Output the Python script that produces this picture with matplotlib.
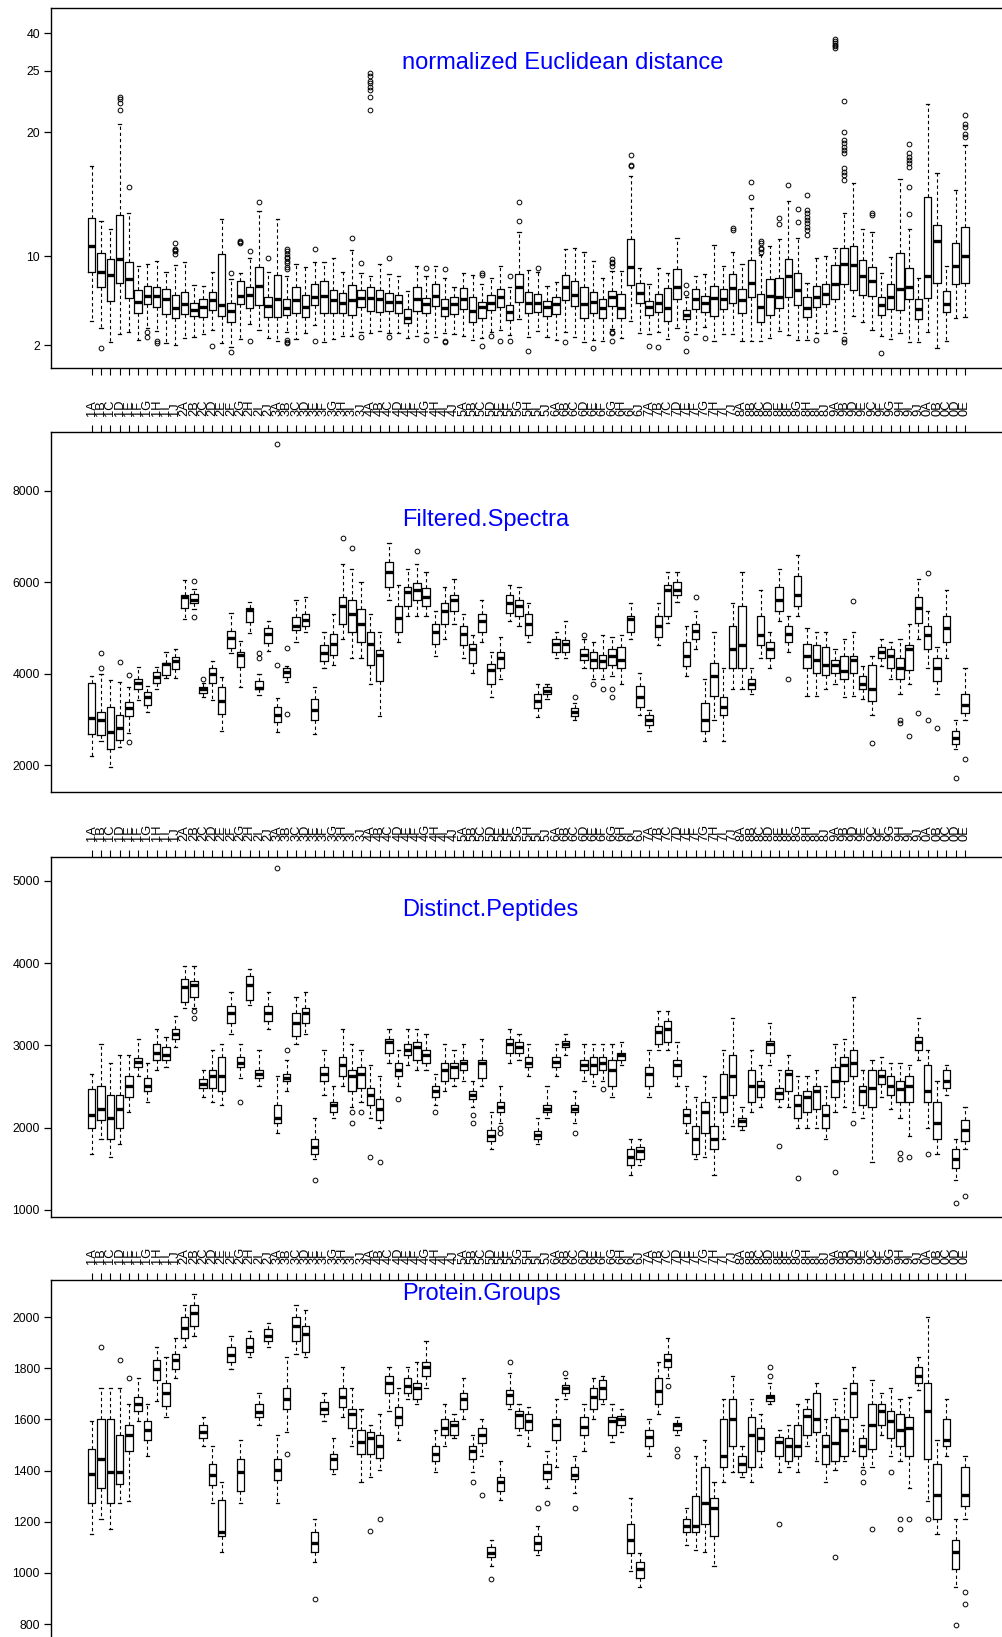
import numpy as np
import matplotlib
matplotlib.use('Agg')
import matplotlib.pyplot as plt

plt.rcParams['font.family'] = ['Liberation Sans', 'DejaVu Sans']

# category labels (note the odd 9-row order)
digits = ['1', '2', '3', '4', '5', '6', '7', '8']
cats = [d + c for d in digits for c in 'ABCDEFGHIJ']
cats += ['9' + c for c in 'ABDECFGHIJ']
cats += ['0' + c for c in 'ABCDE']

# ---- normalized Euclidean distance ----
ned_q3 = [13.1, 10.3, 9.76, 13.3, 9.52, 6.97, 7.33, 7.2, 7.03, 6.5,
          6.77, 5.81, 6.14, 6.77, 10.2, 5.78, 7.81, 7.27, 9.07, 6.37,
          8.29, 6.14, 7.22, 6.55, 7.51, 7.78, 6.97, 6.74, 7.42, 6.97,
          7.22, 6.97, 6.7, 6.55, 5.24, 7.22, 6.22, 7.51, 6.14, 6.31,
          7.12, 6.31, 5.93, 6.52, 7.06, 5.6, 8.41, 6.77, 6.58, 6.02,
          6.37, 8.32, 7.81, 7.27, 6.82, 6.16, 6.88, 6.58, 11.37, 7.63,
          5.99, 6.61, 7.12, 8.86, 5.18, 7.03, 6.46, 7.33, 7.03, 8.38,
          7.06, 9.7, 6.58, 7.93, 8.02, 9.79, 8.53, 6.31, 7.36, 7.48,
          9.2, 10.7, 10.86, 9.7, 9.07, 6.37, 7.51, 10.3, 8.98, 6.14,
          14.76, 12.53, 6.88, 11.05, 12.4]
ned_med = [10.86, 8.62, 8.32, 9.73, 7.93, 5.9, 6.43, 6.43, 6.16, 5.36,
           5.75, 5.18, 5.42, 6.08, 5.63, 5.12, 6.46, 6.52, 7.33, 5.54,
           6.16, 5.36, 6.08, 5.42, 6.37, 6.43, 6.08, 5.84, 6.08, 6.22,
           6.22, 6.14, 5.93, 5.93, 4.43, 6.16, 5.72, 6.46, 5.33, 5.72,
           6.16, 5.09, 5.48, 5.84, 6.31, 5.0, 7.22, 5.78, 5.78, 5.48,
           5.72, 7.22, 6.52, 5.72, 5.93, 5.33, 6.31, 5.39, 9.0, 6.67,
           5.42, 5.78, 5.33, 7.27, 4.73, 6.16, 5.84, 6.22, 6.16, 7.12,
           6.08, 7.6, 5.42, 6.46, 6.31, 8.26, 6.97, 5.33, 6.37, 6.58,
           7.48, 9.31, 9.2, 8.2, 7.78, 5.63, 6.37, 7.03, 7.27, 5.24,
           8.2, 11.26, 5.72, 9.16, 10.05]
ned_q1 = [8.56, 7.27, 6.02, 7.57, 6.23, 4.88, 5.7, 5.4, 4.79, 4.43,
          4.82, 4.64, 4.52, 5.15, 4.64, 4.07, 5.69, 5.39, 5.63, 4.58,
          4.52, 4.73, 4.88, 4.52, 5.63, 4.88, 4.88, 4.88, 4.73, 5.48,
          5.09, 5.0, 5.12, 4.88, 4.04, 5.12, 4.88, 5.54, 4.64, 4.82,
          5.24, 4.13, 4.43, 5.18, 5.42, 4.28, 5.93, 4.88, 5.03, 4.64,
          4.82, 6.08, 5.57, 4.43, 4.94, 4.43, 5.54, 4.43, 7.42, 5.78,
          4.73, 5.03, 4.22, 6.14, 4.34, 5.24, 5.03, 4.64, 5.24, 5.84,
          4.94, 6.31, 4.13, 4.73, 5.33, 6.31, 5.63, 4.52, 5.48, 5.72,
          6.16, 7.51, 6.97, 6.55, 6.43, 4.73, 5.24, 5.18, 6.14, 4.37,
          6.28, 7.57, 4.97, 7.51, 7.57]
ned_hi = [17.3, 12.85, 12.2, 20.7, 13.5, 9.16, 9.28, 9.6, 8.56, 9.2,
          9.46, 7.42, 7.33, 8.62, 13.0, 7.93, 8.47, 9.85, 13.66, 8.56,
          13.0, 8.26, 9.31, 9.0, 9.46, 9.52, 9.88, 8.62, 10.5, 8.53,
          8.23, 9.28, 8.44, 8.2, 6.88, 9.16, 8.23, 9.16, 8.02, 7.27,
          8.47, 8.32, 7.5, 8.02, 9.13, 7.22, 11.94, 8.77, 8.62, 7.33,
          7.66, 10.56, 10.65, 10.38, 9.58, 8.02, 8.7, 8.71, 16.5, 8.98,
          7.51, 8.92, 8.47, 11.45, 6.37, 8.23, 8.41, 10.91, 9.13, 10.38,
          9.31, 13.87, 10.1, 10.8, 11.37, 14.49, 11.45, 7.57, 9.88, 10.05,
          10.65, 13.47, 15.9, 12.2, 11.99, 8.53, 9.97, 16.24, 12.18, 8.02,
          22.3, 16.7, 9.16, 15.35, 18.98]
ned_lo = [4.19, 3.53, 2.27, 2.99, 3.17, 2.48, 3.53, 3.29, 2.18, 2.03,
          2.69, 2.78, 3.02, 3.38, 2.18, 1.88, 2.57, 3.92, 3.38, 2.63,
          2.39, 3.17, 2.54, 3.08, 3.8, 2.33, 2.57, 2.84, 2.84, 3.17,
          3.14, 3.32, 3.08, 3.08, 2.69, 2.84, 3.14, 2.78, 3.14, 2.99,
          2.84, 2.48, 2.63, 3.17, 3.38, 2.93, 4.37, 2.78, 3.29, 2.78,
          2.48, 3.17, 2.78, 2.27, 2.48, 2.42, 3.5, 2.63, 4.22, 3.14,
          2.99, 3.23, 2.54, 3.53, 3.17, 2.99, 3.68, 2.42, 2.99, 2.99,
          2.42, 2.42, 2.42, 2.69, 3.32, 2.93, 2.48, 2.48, 3.14, 3.08,
          3.29, 3.08, 4.64, 4.13, 3.38, 2.84, 2.57, 3.14, 2.33, 2.33,
          3.17, 1.79, 2.42, 4.43, 4.58]
ned_out = {1: [1.76], 3: [21.8, 22.4, 22.7, 22.9], 4: [15.6], 6: [3.23, 2.78],
           7: [2.42, 2.18], 9: [10.2, 10.4, 10.5, 10.6, 11.1], 13: [1.97],
           15: [8.47, 1.43], 16: [11.1, 11.15, 11.2], 17: [10.4, 2.39], 18: [14.4],
           19: [9.85], 21: [8.83, 9.07, 9.37, 9.61, 9.82, 9.97, 10.2, 10.4, 10.6, 2.45, 2.3, 2.18],
           24: [10.6, 2.42], 28: [11.45], 29: [9.43, 2.78],
           30: [21.8, 22.9, 23.4, 23.7, 24.0, 24.2, 24.6, 24.8], 32: [9.85, 2.78],
           36: [8.98, 2.48], 38: [8.83, 2.42, 2.33], 42: [8.32, 8.53, 1.97], 43: [2.87],
           44: [2.42], 45: [8.26, 2.39], 46: [12.88, 14.35], 47: [1.52], 48: [8.98],
           51: [2.33], 54: [1.79], 56: [9.13, 9.37, 9.52, 9.76, 3.23, 3.08, 2.42],
           58: [17.3, 17.4, 18.2], 60: [1.94], 61: [1.82], 64: [7.42, 6.74, 2.63, 1.52],
           66: [2.63], 69: [12.12, 12.26], 71: [14.8, 16.0],
           72: [10.38, 10.56, 10.7, 11.1, 11.26], 74: [12.58, 13.06], 75: [15.75],
           76: [12.8, 13.79], 77: [11.7, 12.1, 12.4, 12.66, 12.9, 13.2, 13.5, 13.7, 14.95],
           78: [2.48], 80: [34.0, 34.8, 35.5, 36.2, 36.9, 37.7],
           81: [16.16, 16.56, 16.8, 17.1, 18.3, 18.57, 18.84, 19.1, 19.38, 20.05, 22.57, 2.54, 2.33],
           84: [13.33, 13.47], 85: [1.34],
           88: [13.39, 15.56, 17.23, 17.5, 17.77, 18.04, 18.3, 19.06],
           94: [19.65, 19.9, 20.46, 20.7, 21.4]}

# ---- Filtered.Spectra ----
spec_q3 = [3789, 3168, 3263, 3095, 3387, 3876, 3606, 4044, 4241, 4358,
           5708, 5738, 3701, 4117, 3716, 4942, 4467, 5431, 3840, 4993,
           3263, 4117, 5248, 5306, 3436, 4622, 4873, 5671, 5602, 5420,
           4918, 4508, 6446, 5488, 5899, 5990, 5876, 5078, 5534, 5716,
           5032, 4645, 5306, 4212, 4462, 5716, 5602, 5306, 3550, 3710,
           4759, 4736, 3254, 4531, 4462, 4417, 4531, 4576, 5260, 3733,
           3094, 5260, 5944, 6013, 4690, 5078, 3368, 4234, 3482, 5032,
           5488, 3892, 5260, 4690, 5899, 5032, 6127, 4645, 4622, 4576,
           4303, 4394, 4394, 3938, 4189, 4576, 4531, 4348, 4622, 5671,
           5032, 4348, 5260, 2752, 3550]
spec_med = [3022, 2986, 2730, 2803, 3241, 3789, 3482, 3920, 4205, 4285,
            5672, 5613, 3657, 3993, 3402, 4774, 4409, 5380, 3679, 4869,
            3095, 4044, 5044, 5169, 3208, 4440, 4645, 5488, 5306, 5078,
            4645, 4417, 6218, 5215, 5785, 5830, 5671, 4918, 5374, 5602,
            4873, 4531, 5146, 4075, 4348, 5534, 5488, 5078, 3391, 3619,
            4645, 4645, 3163, 4417, 4303, 4280, 4394, 4303, 5192, 3482,
            2980, 5032, 5830, 5830, 4394, 4941, 2980, 3938, 3277, 4531,
            4622, 3778, 4850, 4531, 5602, 4873, 5716, 4394, 4303, 4189,
            4189, 4052, 4303, 3778, 3664, 4462, 4394, 4120, 4531, 5443,
            4850, 4120, 4987, 2593, 3322]
spec_q1 = [2679, 2657, 2350, 2548, 3080, 3657, 3314, 3789, 3971, 4095,
           5431, 5540, 3584, 3789, 3117, 4555, 4154, 5124, 3657, 4665,
           2949, 3935, 4957, 5032, 2980, 4280, 4417, 5078, 4918, 4690,
           4189, 3847, 5899, 4918, 5488, 5602, 5488, 4645, 5078, 5374,
           4622, 4234, 4918, 3778, 4120, 5329, 5260, 4850, 3254, 3550,
           4462, 4462, 3072, 4303, 4120, 4120, 4189, 4120, 4918, 3277,
           2866, 4804, 5260, 5716, 4166, 4759, 2752, 3505, 3094, 4120,
           4120, 3664, 4622, 4348, 5374, 4690, 5488, 4120, 4006, 3961,
           4006, 3892, 4006, 3664, 3391, 4348, 4120, 3892, 4075, 5101,
           4531, 3847, 4690, 2456, 3140]
spec_hi = [3949, 3993, 3862, 3825, 3716, 4154, 3730, 4139, 4467, 4548,
           6037, 5847, 3789, 4285, 3920, 5321, 4723, 5555, 3993, 5160,
           3460, 4168, 5599, 5671, 3710, 4918, 5306, 6400, 6286, 6013,
           5306, 4918, 6856, 5944, 6286, 6400, 6218, 5374, 5899, 6058,
           5306, 4850, 5602, 4462, 4804, 5944, 5899, 5534, 3778, 3778,
           4918, 5146, 3368, 4759, 4690, 4850, 4804, 4850, 5534, 4006,
           3208, 5534, 6218, 6218, 5032, 5374, 3892, 4918, 4120, 5534,
           6218, 4120, 5830, 4918, 6286, 5260, 6583, 4987, 4918, 4918,
           4531, 4759, 4918, 4166, 4394, 4759, 4690, 4759, 5078, 6058,
           5374, 4576, 5830, 2980, 4120]
spec_lo = [2197, 2533, 1963, 2387, 2694, 3424, 3153, 3657, 3898, 3913,
           5197, 5409, 3496, 3424, 2752, 4446, 3716, 4884, 3533, 4504,
           2716, 3825, 4701, 4918, 2684, 4120, 4189, 4759, 4348, 4348,
           3778, 3072, 5602, 4690, 5260, 5260, 5260, 4394, 4759, 5078,
           4348, 4006, 4690, 3482, 3892, 5146, 5032, 4690, 3049, 3436,
           4348, 4348, 2980, 4120, 3892, 3892, 3938, 3778, 4759, 3094,
           2752, 4622, 5101, 5557, 3938, 4531, 2524, 2980, 2524, 3664,
           3664, 3550, 4348, 4120, 5146, 4462, 5260, 3505, 3505, 3664,
           3778, 3482, 3505, 3436, 3094, 4166, 3892, 3550, 3778, 4759,
           4120, 3550, 4348, 2342, 2980]
spec_out = {1: [4446, 4132], 3: [4263], 4: [3971, 2496], 11: [6015, 5248], 12: [3876],
            18: [4446, 4336], 20: [9008, 4190], 21: [4570, 3117], 27: [6970], 28: [6742],
            35: [6674], 52: [3482], 53: [4850], 54: [3778], 55: [3664], 56: [3664, 3482],
            65: [5671], 75: [3892], 82: [5580], 84: [2479], 87: [2980, 2930], 88: [2638],
            89: [3140], 90: [6195, 2980], 91: [2821], 93: [1726], 94: [2137]}

# ---- Distinct.Peptides ----
pep_q3 = [2465, 2503, 2401, 2401, 2631, 2847, 2605, 3013, 2975, 3204,
          3803, 3777, 2592, 2694, 2860, 3484, 2860, 3841, 2694, 3484,
          2274, 2656, 3395, 3459, 1866, 2733, 2312, 2860, 2694, 2733,
          2478, 2350, 3077, 2784, 3013, 3038, 2949, 2503, 2784, 2784,
          2822, 2440, 2822, 1968, 2312, 3077, 3038, 2860, 1956, 2274,
          2860, 3051, 2274, 2822, 2860, 2860, 2822, 2911, 1739, 1764,
          2733, 3230, 3293, 2822, 2223, 2019, 2312, 2019, 2656, 2886,
          2121, 2694, 2567, 3051, 2478, 2694, 2401, 2440, 2503, 2274,
          2733, 2860, 2949, 2503, 2694, 2694, 2631, 2567, 2631, 3102,
          2758, 2312, 2694, 1739, 2096]
pep_med = [2147, 2223, 2121, 2223, 2503, 2796, 2503, 2911, 2886, 3140,
           3714, 3739, 2529, 2631, 2631, 3395, 2784, 3739, 2656, 3395,
           2121, 2605, 3268, 3395, 1764, 2656, 2274, 2758, 2631, 2656,
           2401, 2223, 3038, 2694, 2949, 2975, 2886, 2440, 2694, 2733,
           2784, 2401, 2784, 1892, 2249, 3013, 2975, 2784, 1905, 2223,
           2796, 3013, 2223, 2758, 2758, 2784, 2694, 2886, 1637, 1713,
           2656, 3166, 3204, 2758, 2147, 1866, 2185, 1866, 2376, 2631,
           2083, 2503, 2503, 3013, 2414, 2656, 2274, 2376, 2440, 2147,
           2567, 2758, 2784, 2440, 2478, 2631, 2503, 2465, 2503, 3038,
           2440, 2057, 2567, 1612, 1968]
pep_q1 = [1994, 2096, 1866, 1994, 2376, 2733, 2440, 2822, 2822, 3077,
          3523, 3586, 2478, 2478, 2440, 3268, 2733, 3548, 2605, 3293,
          2057, 2567, 3115, 3268, 1675, 2567, 2185, 2631, 2440, 2478,
          2274, 2096, 2911, 2631, 2886, 2822, 2784, 2376, 2567, 2605,
          2694, 2350, 2605, 1841, 2185, 2911, 2911, 2733, 1866, 2185,
          2733, 2975, 2185, 2694, 2656, 2694, 2503, 2822, 1548, 1612,
          2503, 3013, 3038, 2631, 2057, 1675, 1930, 1739, 2185, 2401,
          2019, 2312, 2376, 2911, 2350, 2440, 2121, 2185, 2223, 1994,
          2376, 2567, 2631, 2274, 2249, 2529, 2401, 2312, 2312, 2949,
          2312, 1866, 2478, 1510, 1841]
pep_hi = [2656, 3013, 2784, 2886, 2886, 3077, 2784, 3204, 3102, 3357,
          3968, 3968, 2694, 2949, 3013, 3650, 3013, 3930, 2949, 3650,
          2631, 2822, 3586, 3650, 2121, 2949, 2503, 3204, 3013, 2949,
          2758, 2631, 3204, 2949, 3204, 3204, 3140, 2656, 3013, 2949,
          3013, 2567, 3077, 2185, 2503, 3204, 3140, 3013, 2121, 2503,
          3013, 3140, 2440, 3013, 3013, 3013, 3013, 3038, 1866, 1866,
          2949, 3421, 3421, 3038, 2503, 2376, 2631, 2376, 2949, 3331,
          2249, 2949, 2758, 3268, 2694, 2886, 2631, 2631, 2694, 2503,
          3013, 3077, 3586, 2694, 2822, 2860, 2784, 2784, 2758, 3331,
          2949, 2567, 2758, 1866, 2249]
pep_lo = [1675, 1866, 1637, 1803, 2185, 2631, 2312, 2694, 2733, 2975,
          3459, 3459, 2376, 2312, 2274, 3140, 2605, 3497, 2503, 3204,
          1930, 2440, 3013, 3140, 1612, 2401, 2121, 2503, 2249, 2312,
          2121, 1994, 2784, 2503, 2758, 2694, 2694, 2274, 2440, 2503,
          2567, 2249, 2503, 1739, 2057, 2784, 2822, 2631, 1803, 2121,
          2631, 2886, 2057, 2567, 2503, 2567, 2376, 2758, 1420, 1548,
          2376, 2949, 2949, 2503, 1930, 1612, 1637, 1420, 1866, 2019,
          1968, 2185, 2249, 2758, 2249, 2249, 1994, 1994, 1994, 1866,
          2185, 2249, 2185, 2121, 1586, 2376, 2223, 2121, 1892, 2822,
          1994, 1675, 2401, 1357, 1739]
pep_out = {11: [3421, 3331], 16: [2312], 20: [5153], 21: [2949], 24: [1357],
           28: [2185, 2057], 29: [2185], 30: [1637], 31: [1586], 33: [2350], 37: [2185],
           41: [2147, 2057], 44: [1994, 1930], 52: [1930], 55: [2465], 74: [1777],
           76: [1382], 80: [1459], 82: [2057], 87: [1688, 1612], 88: [1637], 90: [1675],
           93: [1076], 94: [1166]}

# ---- Protein.Groups ----
prot_q3 = [1485, 1600, 1600, 1538, 1579, 1689, 1592, 1832, 1742, 1857,
           2000, 2048, 1579, 1424, 1286, 1885, 1445, 1918, 1661, 1955,
           1445, 1722, 2000, 1967, 1159, 1669, 1465, 1722, 1640, 1559,
           1551, 1538, 1771, 1649, 1763, 1742, 1824, 1498, 1600, 1592,
           1702, 1498, 1567, 1102, 1375, 1714, 1632, 1620, 1143, 1424,
           1600, 1734, 1416, 1608, 1722, 1755, 1608, 1612, 1192, 1041,
           1559, 1763, 1857, 1587, 1212, 1302, 1416, 1294, 1600, 1681,
           1457, 1608, 1567, 1694, 1530, 1526, 1579, 1640, 1702, 1538,
           1608, 1600, 1742, 1526, 1661, 1661, 1632, 1620, 1608, 1804,
           1742, 1424, 1600, 1130, 1416]
prot_med = [1388, 1445, 1396, 1396, 1538, 1661, 1559, 1796, 1702, 1832,
            1959, 2016, 1551, 1383, 1159, 1853, 1396, 1885, 1628, 1926,
            1404, 1681, 1967, 1934, 1118, 1640, 1445, 1689, 1620, 1510,
            1526, 1498, 1742, 1608, 1730, 1722, 1804, 1465, 1567, 1579,
            1681, 1477, 1538, 1077, 1355, 1694, 1616, 1592, 1118, 1396,
            1579, 1722, 1383, 1571, 1689, 1722, 1592, 1600, 1130, 1016,
            1530, 1710, 1832, 1579, 1184, 1184, 1273, 1253, 1457, 1600,
            1424, 1538, 1526, 1689, 1510, 1498, 1498, 1612, 1600, 1498,
            1506, 1559, 1702, 1498, 1579, 1632, 1592, 1559, 1567, 1771,
            1632, 1306, 1518, 1082, 1306]
prot_q1 = [1273, 1334, 1273, 1347, 1477, 1632, 1518, 1755, 1653, 1796,
           1918, 1967, 1526, 1343, 1143, 1824, 1322, 1865, 1608, 1906,
           1363, 1640, 1906, 1865, 1082, 1620, 1408, 1649, 1567, 1465,
           1465, 1449, 1702, 1579, 1702, 1681, 1771, 1436, 1538, 1538,
           1640, 1445, 1506, 1061, 1322, 1661, 1567, 1559, 1090, 1367,
           1518, 1702, 1367, 1538, 1640, 1681, 1538, 1579, 1077, 980,
           1498, 1661, 1804, 1559, 1159, 1159, 1192, 1143, 1416, 1498,
           1396, 1416, 1477, 1673, 1457, 1436, 1457, 1538, 1551, 1424,
           1436, 1457, 1608, 1457, 1485, 1579, 1526, 1498, 1457, 1742,
           1445, 1212, 1498, 1016, 1261]
prot_hi = [1592, 1722, 1722, 1722, 1661, 1763, 1661, 1885, 1844, 1918,
           2048, 2089, 1608, 1498, 1355, 1926, 1518, 1946, 1702, 1975,
           1538, 1844, 2048, 2028, 1212, 1702, 1526, 1804, 1722, 1640,
           1579, 1620, 1804, 1722, 1804, 1824, 1906, 1559, 1661, 1620,
           1763, 1538, 1600, 1130, 1436, 1783, 1661, 1649, 1184, 1477,
           1681, 1763, 1457, 1661, 1763, 1771, 1661, 1640, 1294, 1077,
           1600, 1824, 1918, 1608, 1253, 1457, 1518, 1355, 1681, 1771,
           1498, 1681, 1620, 1742, 1559, 1579, 1661, 1681, 1742, 1600,
           1681, 1722, 1804, 1579, 1755, 1702, 1722, 1681, 1689, 1844,
           2000, 1518, 1681, 1212, 1457]
prot_lo = [1151, 1212, 1171, 1273, 1281, 1592, 1457, 1673, 1608, 1763,
           1885, 1926, 1498, 1273, 1082, 1796, 1273, 1844, 1579, 1885,
           1273, 1551, 1857, 1844, 1041, 1592, 1388, 1608, 1498, 1355,
           1375, 1404, 1632, 1518, 1681, 1661, 1722, 1396, 1498, 1526,
           1600, 1396, 1457, 1028, 1286, 1640, 1538, 1498, 1069, 1334,
           1416, 1681, 1314, 1477, 1600, 1661, 1510, 1551, 1008, 947,
           1457, 1620, 1763, 1538, 1110, 1090, 1082, 1028, 1355, 1396,
           1375, 1355, 1416, 1661, 1396, 1416, 1396, 1498, 1436, 1355,
           1404, 1436, 1477, 1416, 1416, 1538, 1457, 1436, 1334, 1714,
           1281, 1151, 1457, 947, 1212]
prot_out = {1: [1885], 3: [1832], 4: [1763], 21: [1465], 24: [898], 30: [1163], 31: [1212],
            41: [1355], 42: [1306], 43: [975], 45: [1824], 48: [1253], 49: [1273], 51: [1783],
            52: [1253], 62: [1730], 63: [1485, 1457], 73: [1804, 1771], 74: [1192], 80: [1061],
            83: [1396, 1355], 84: [1171], 86: [1396], 87: [1212, 1171], 88: [1212], 90: [1212],
            93: [796], 94: [926, 877]}


def make_stats(q1, med, q3, lo, hi, out):
    st = []
    for i in range(len(med)):
        st.append(dict(q1=q1[i], med=med[i], q3=q3[i], whislo=lo[i], whishi=hi[i],
                       fliers=out.get(i, [])))
    return st


# gapped axis of the top panel: value -> pixel height above panel bottom
kv = [-10, 2, 10, 20, 25, 40, 100]
kp = [-110.8, 22.7, 111.7, 235.7, 297.3, 334.7, 484.3]
def fwd(v):
    return np.interp(v, kv, kp)
def inv(p):
    return np.interp(p, kp, kv)

W, H = 1002, 1637
fig = plt.figure(figsize=(W / 100, H / 100), dpi=100)

panels = [
    ('normalized Euclidean distance', make_stats(ned_q1, ned_med, ned_q3, ned_lo, ned_hi, ned_out),
     8, [2, 10, 20, 25, 40], None, (0.536, 0.848)),
    ('Filtered.Spectra', make_stats(spec_q1, spec_med, spec_q3, spec_lo, spec_hi, spec_out),
     432, [2000, 4000, 6000, 8000], (1412, 9281), (0.455, 0.756)),
    ('Distinct.Peptides', make_stats(pep_q1, pep_med, pep_q3, pep_lo, pep_hi, pep_out),
     857, [1000, 2000, 3000, 4000, 5000], (911, 5292), (0.46, 0.853)),
    ('Protein.Groups', make_stats(prot_q1, prot_med, prot_q3, prot_lo, prot_hi, prot_out),
     1280, [800, 1000, 1200, 1400, 1600, 1800, 2000], (738, 2145), (0.451, 0.961)),
]

pos = np.arange(1, len(cats) + 1)
for k, (title, st, top, yt, ylim, tpos) in enumerate(panels):
    ax = fig.add_axes([51 / W, 1 - (top + 360) / H, 955 / W, 360 / H])
    if k == 0:
        ax.set_yscale('function', functions=(fwd, inv))
    ax.bxp(st, positions=pos, widths=0.8, capwidths=0.35, showfliers=True,
           boxprops=dict(color='black', lw=0.9),
           whiskerprops=dict(color='black', lw=0.8, linestyle=(0, (3, 2.5))),
           capprops=dict(color='black', lw=0.9),
           medianprops=dict(color='black', lw=2.4, solid_capstyle='butt'),
           flierprops=dict(marker='o', markersize=3.4, markerfacecolor='none',
                           markeredgecolor='black', markeredgewidth=0.7))
    ax.set_xlim(-3.38, 99.42)
    if k == 0:
        ax.set_ylim(inv(0), inv(360))
    else:
        ax.set_ylim(*ylim)
    ax.set_yticks(yt)
    ax.set_yticklabels([str(v) for v in yt])
    ax.set_xticks(pos)
    ax.tick_params(axis='y', length=5, width=0.9, pad=3, labelsize=8.8)
    if k == 0:
        ax.tick_params(axis='x', length=4.8, width=0.8, labelbottom=False)
    else:
        ax.set_xticklabels(cats, rotation=90, fontsize=9.3)
        ax.tick_params(axis='x', top=True, bottom=False, labeltop=True, labelbottom=False,
                       length=4.8, width=0.8, pad=7)
    ax.yaxis.set_minor_locator(matplotlib.ticker.NullLocator())
    for s in ax.spines.values():
        s.set_linewidth(1.0)
    ax.text(tpos[0], tpos[1], title, transform=ax.transAxes, color='blue',
            fontsize=17, ha='center', va='center')

fig.savefig('out.png', dpi=100)
